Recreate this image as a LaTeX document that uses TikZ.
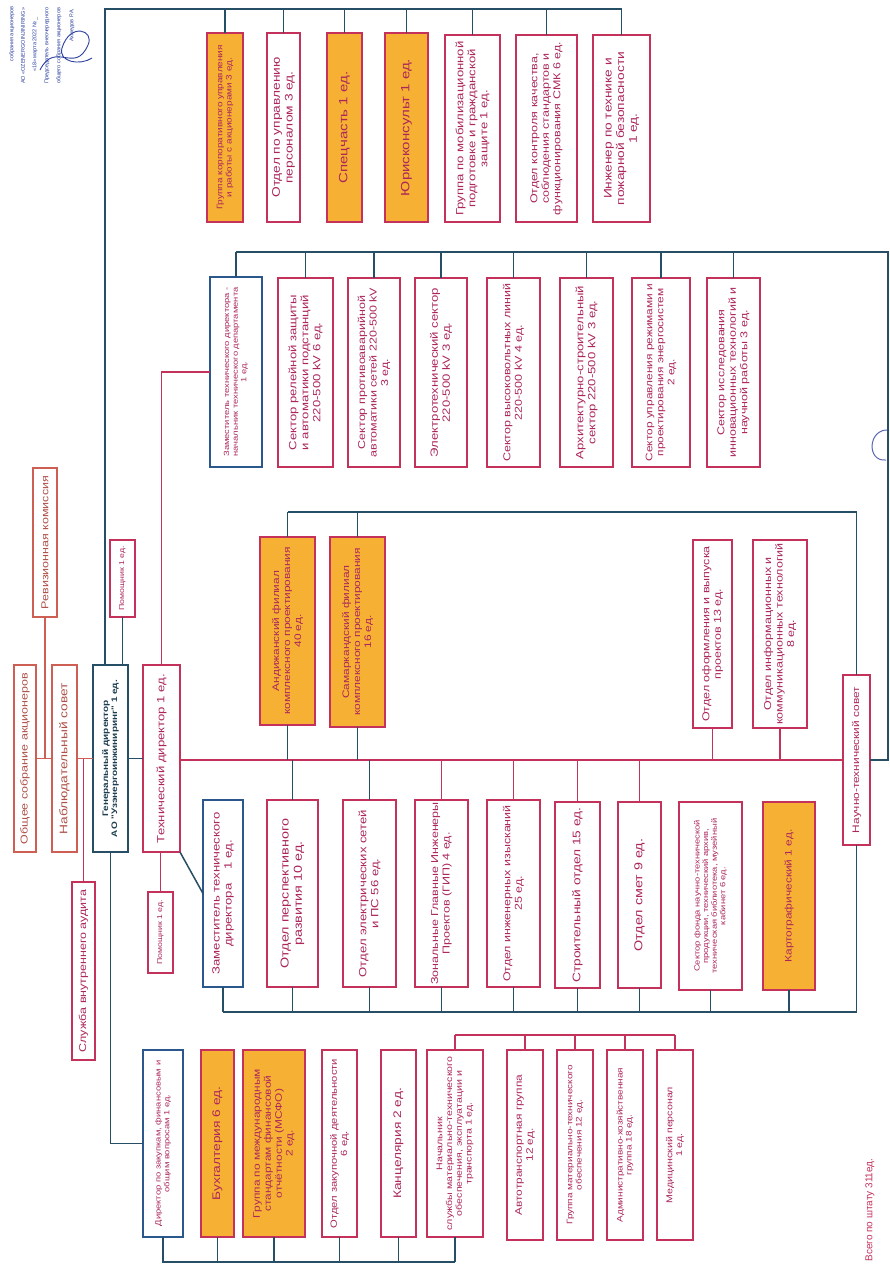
\documentclass[tikz,border=0pt]{standalone}
\usepackage{fontspec}
\setmainfont{Liberation Sans}
\newfontfamily\bxfont[FakeStretch=1.25]{Liberation Sans}
\definecolor{bred}{RGB}{196,50,92}
\definecolor{tred}{RGB}{172,38,92}
\definecolor{borange}{RGB}{246,176,52}
\definecolor{bteal}{RGB}{38,78,100}
\definecolor{bblue}{RGB}{42,88,140}
\definecolor{bsalmon}{RGB}{205,95,85}
\definecolor{stampblue}{RGB}{45,65,160}
\tikzset{
 boxbase/.style={rectangle, inner sep=0pt, outer sep=0pt, line width=1.4pt},
 rbox/.style={boxbase, draw=bred, fill=white},
 rboxtxt/.style={text=tred},
 obox/.style={boxbase, draw=bred, fill=borange},
 oboxtxt/.style={text=tred},
 bbox/.style={boxbase, draw=bblue, fill=white},
 bboxtxt/.style={text=tred},
 gbox/.style={boxbase, draw=bteal, fill=white, line width=1.8pt},
 gboxtxt/.style={text=bteal!80!black},
 sbox/.style={boxbase, draw=bsalmon, fill=white},
 sboxtxt/.style={text=bsalmon!85!black},
 tl/.style={draw=bteal, line width=1.5pt},
 rl/.style={draw=bred, line width=1.2pt},
 sl/.style={draw=bsalmon, line width=1.1pt},
 stamp/.style={rotate=90, anchor=west, inner sep=0pt, text=stampblue, font=\fontsize{5.5}{6.5}\selectfont},
}
\newcommand{\orgbox}[8]{%
 \pgfmathsetmacro{\obw}{#4-#2}%
 \pgfmathsetmacro{\obh}{#5-#3}%
 \pgfmathsetmacro{\obcx}{(#2+#4)/2}%
 \pgfmathsetmacro{\obcy}{(#3+#5)/2}%
 \pgfmathsetmacro{\obls}{#7*1.15}%
 \node[#6, minimum width=\obw pt, minimum height=\obh pt] (#1) at (\obcx,\obcy) {};
 \node[#6txt, rotate=90, align=center, inner sep=0pt, font=\bxfont\fontsize{#7}{\obls}\selectfont] (#1t) at (#1.center) {#8};
}
\begin{document}
\begin{tikzpicture}[x=1pt,y=-1pt]
\useasboundingbox (0,0) rectangle (890,1270);
\fill[white] (0,0) rectangle (890,1270);

% stamp
\node[stamp] (st1) at (12,62) {собрания акционеров};
\node[stamp] (st2) at (23,84) {АО «ОZENERGOINJINIRING»};
\node[stamp] (st3) at (35,72) {«18» марта 2022 № \_};
\node[stamp] (st4) at (47,84) {Председатель внеочередного};
\node[stamp] (st5) at (59,84) {общего собрания акционеров};
\node[stamp] (st6) at (72,42) {Ахмедов Р.А.};
\draw[stampblue, line width=0.9pt] (40,70) .. controls (55,40) and (75,75) .. (88,45)
  .. controls (95,30) and (70,22) .. (62,48) .. controls (58,62) and (80,66) .. (92,58);
\draw[stampblue!80, line width=1pt] (889,430) .. controls (868,428) and (866,462) .. (886,460);

% top row
\orgbox{t1}{207}{33}{243}{222}{obox}{8}{Группа корпоративного управления\\и работы с акционерами 3 ед.}
\orgbox{t2}{267}{33}{300}{222}{rbox}{11}{Отдел по управлению\\персоналом 3 ед.}
\orgbox{t3}{327}{33}{362}{222}{obox}{12}{Спецчасть 1 ед.}
\orgbox{t4}{385}{33}{428}{222}{obox}{12}{Юрисконсульт 1 ед.}
\orgbox{t5}{445}{35}{500}{222}{rbox}{10.5}{Группа по мобилизационной\\подготовке и гражданской\\защите 1 ед.}
\orgbox{t6}{516}{35}{577}{222}{rbox}{10}{Отдел контроля качества,\\соблюдения стандартов и\\функционирования СМК 6 ед.}
\orgbox{t7}{593}{35}{650}{222}{rbox}{11}{Инженер по технике и\\пожарной безопасности\\1 ед.}

% second row
\orgbox{s1}{210}{277}{262}{467}{bbox}{7.5}{Заместитель технического директора -\\начальник технического департамента\\1 ед.}
\orgbox{s2}{278}{278}{333}{467}{rbox}{10.5}{Сектор релейной защиты\\и автоматики подстанций\\220-500 kV 6 ед.}
\orgbox{s3}{348}{278}{400}{467}{rbox}{10}{Сектор противоаварийной\\автоматики сетей 220-500 kV\\3 ед.}
\orgbox{s4}{415}{278}{467}{467}{rbox}{10.5}{Электротехнический сектор\\220-500 kV 3 ед.}
\orgbox{s5}{487}{278}{540}{467}{rbox}{10}{Сектор высоковольтных линий\\220-500 kV 4 ед.}
\orgbox{s6}{560}{278}{613}{467}{rbox}{10.5}{Архитектурно-строительный\\сектор 220-500 kV 3 ед.}
\orgbox{s7}{632}{278}{690}{467}{rbox}{9.5}{Сектор управления режимами и\\проектирования энергосистем\\2 ед.}
\orgbox{s8}{707}{278}{760}{467}{rbox}{10}{Сектор исследования\\инновационных технологий и\\научной работы 3 ед.}

% middle
\orgbox{m1}{260}{537}{315}{725}{obox}{9.5}{Андижанский филиал\\комплексного проектирования\\40 ед.}
\orgbox{m2}{330}{537}{385}{727}{obox}{9.5}{Самаркандский филиал\\комплексного проектирования\\16 ед.}
\orgbox{m3}{693}{540}{732}{728}{rbox}{10}{Отдел оформления и выпуска\\проектов 13 ед.}
\orgbox{m4}{753}{540}{807}{728}{rbox}{10}{Отдел информационных и\\коммуникационных технологий\\8 ед.}
\orgbox{nts}{843}{675}{870}{845}{rbox}{9.5}{Научно-технический совет}

% left
\orgbox{os}{14}{665}{36}{852}{sbox}{10}{Общее собрание акционеров}
\orgbox{ns}{52}{665}{77}{852}{sbox}{11}{Наблюдательный совет}
\orgbox{rk}{33}{468}{57}{617}{sbox}{10}{Ревизионная комиссия}
\orgbox{gd}{93}{665}{128}{852}{gbox}{8}{\textbf{Генеральный директор}\\\textbf{АО "Узэнергоинжиниринг" 1 ед.}}
\orgbox{td}{143}{665}{180}{852}{rbox}{10.5}{Технический директор 1 ед.}
\orgbox{pa}{110}{540}{135}{617}{rbox}{7}{Помощник 1 ед.}
\orgbox{pb}{148}{892}{173}{973}{rbox}{7}{Помощник 1 ед.}
\orgbox{sa}{72}{882}{95}{1060}{rbox}{10}{Служба внутреннего аудита}

% third row
\orgbox{r1}{203}{800}{243}{987}{bbox}{10.5}{Заместитель технического\\директора \quad 1 ед.}
\orgbox{r2}{267}{800}{318}{987}{rbox}{11.5}{Отдел перспективного\\развития 10 ед.}
\orgbox{r3}{343}{800}{396}{987}{rbox}{10.5}{Отдел электрических сетей\\и ПС 56 ед.}
\orgbox{r4}{415}{800}{468}{987}{rbox}{10}{Зональные Главные Инженеры\\Проектов (ГИП) 4 ед.}
\orgbox{r5}{487}{800}{540}{987}{rbox}{10}{Отдел инженерных изысканий\\25 ед.}
\orgbox{r6}{555}{802}{600}{988}{rbox}{11}{Строительный отдел 15 ед.}
\orgbox{r7}{618}{802}{661}{988}{rbox}{11.5}{Отдел смет 9 ед.}
\orgbox{r8}{679}{802}{742}{990}{rbox}{7.5}{Сектор фонда научно-технической\\продукции, технический архив,\\техническая библиотека, музейный\\кабинет 6 ед.}
\orgbox{r9}{763}{802}{815}{990}{obox}{9.5}{Картографический 1 ед.}

% bottom row
\orgbox{b0}{143}{1050}{183}{1237}{bbox}{7.5}{Директор по закупкам, финансовым и\\общим вопросам 1 ед.}
\orgbox{b1}{201}{1050}{234}{1237}{obox}{11}{Бухгалтерия 6 ед.}
\orgbox{b2}{243}{1050}{305}{1237}{obox}{9.5}{Группа по международным\\стандартам финансовой\\отчётности (МСФО)\\2 ед.}
\orgbox{b3}{322}{1050}{357}{1237}{rbox}{9}{Отдел закупочной деятельности\\6 ед.}
\orgbox{b4}{381}{1050}{416}{1237}{rbox}{11}{Канцелярия 2 ед.}
\orgbox{b5}{427}{1050}{483}{1237}{rbox}{8.5}{Начальник\\службы материально-технического\\обеспечения, эксплуатации и\\транспорта 1 ед.}
\orgbox{b6}{507}{1050}{543}{1240}{rbox}{9.5}{Автотранспортная группа\\12 ед.}
\orgbox{b7}{557}{1050}{593}{1240}{rbox}{8}{Группа материально-технического\\обеспечения 12 ед.}
\orgbox{b8}{607}{1050}{643}{1240}{rbox}{8}{Административно-хозяйственная\\группа 18 ед.}
\orgbox{b9}{657}{1050}{693}{1240}{rbox}{8.5}{Медицинский персонал\\1 ед.}

\node[rotate=90, text=bred, inner sep=0pt, font=\fontsize{10}{12}\selectfont] (total) at (870,1210) {Всего по штату 311ед.};

% coordinates of bus lines
\coordinate (Ltop) at (105,9);
\coordinate (R2) at (888,252);
\coordinate (L3) at (0,512);
\coordinate (M) at (0,760);
\coordinate (L4) at (0,1012);
\coordinate (L6) at (0,1262);
\coordinate (L7) at (0,1035);

% top bus
\draw[tl] (gd.north -| Ltop) -- (Ltop) -- (t7.north |- Ltop);
\foreach \n in {t1,t2,t3,t4,t5,t6,t7} \draw[tl] (\n.north) -- (\n.north |- Ltop);
\draw[tl] (pa.south) -- (pa.south |- gd.north);

% second row bus
\draw[tl] (s1.north |- R2) -- (R2) -- (R2 |- nts.east) -- (nts.east);
\foreach \n in {s1,s2,s3,s4,s5,s6,s7,s8} \draw[tl] (\n.north) -- (\n.north |- R2);
\draw[rl] (td.north) -- (td.north |- s1.west) -- (s1.west);

% branches bus
\draw[tl] (m1.north |- L3) -- (nts.north |- L3) -- (nts.north);
\foreach \n in {m1,m2} \draw[tl] (\n.north) -- (\n.north |- L3);

% middle bus
\draw[rl] (td.east |- M) -- (nts.west |- M);
\draw[tl] (m1.south) -- (m1.south |- M);
\draw[tl] (m2.south) -- (m2.south |- M);
\draw[rl] (m3.south) -- (m3.south |- M);
\draw[rl] (m4.south) -- (m4.south |- M);
\draw[tl] (r2.north) -- (r2.north |- M);
\draw[tl] (r3.north) -- (r3.north |- M);
\foreach \n in {r4,r5,r6,r7} \draw[rl] (\n.north) -- (\n.north |- M);

% third row lower bus
\draw[tl] (r1.south |- L4) -- (nts.south |- L4) -- (nts.south);
\foreach \n in {r1,r2,r3,r4,r5,r6,r7,r8,r9} \draw[tl] (\n.south) -- (\n.south |- L4);

% left part
\draw[sl] (os.east) -- (ns.west);
\draw[sl] (rk.south) -- (rk.south |- os.east);
\draw[sl] (ns.east) -- (gd.west);
\draw[rl] (sa.north |- ns.east) -- (sa.north);
\draw[tl] (gd.east) -- (td.west);
\draw[rl] (td.south -| pb.north) -- (pb.north);
\draw[tl] (td.south east) -- (r1.west);
\draw[tl] (gd.south) -- (gd.south |- b0.west) -- (b0.west);

% bottom buses
\draw[tl] (b0.south) -- (b0.south |- L6) -- (b5.south |- L6);
\foreach \n in {b1,b2,b3,b4,b5} \draw[tl] (\n.south) -- (\n.south |- L6);
\draw[rl] (b5.north |- L7) -- (b9.north |- L7);
\foreach \n in {b5,b6,b7,b8,b9} \draw[rl] (\n.north) -- (\n.north |- L7);
\end{tikzpicture}
\end{document}
